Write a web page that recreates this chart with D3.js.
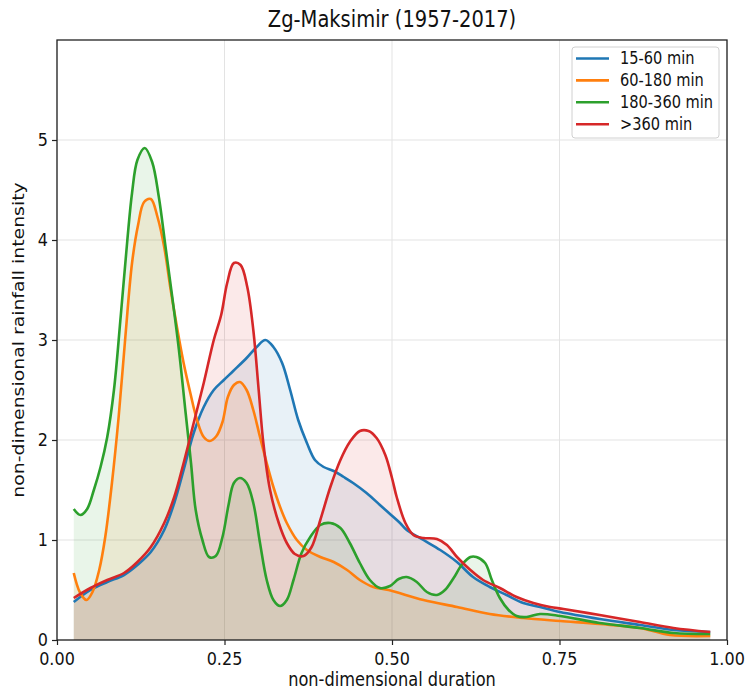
<!DOCTYPE html>
<html>
<head>
<meta charset="utf-8">
<script src="https://cdn.jsdelivr.net/npm/d3@7"></script>
<style>
  html, body { margin: 0; padding: 0; background: #fff; }
  svg { display: block; }
  text { font-family: "DejaVu Sans", sans-serif; fill: #111; }
</style>
</head>
<body>
<svg id="chart" width="748" height="691"></svg>
<script>
// Non-dimensional rainfall profiles, Zagreb-Maksimir 1957-2017
const seriesNames = ["15-60 min", "60-180 min", "180-360 min", ">360 min"];
const seriesColors = ["#1f77b4", "#ff7f0e", "#2ca02c", "#d62728"];

const blueX = [0.025, 0.050, 0.075, 0.100, 0.120, 0.140, 0.160, 0.175, 0.189, 0.204, 0.219, 0.234, 0.249, 0.263, 0.283, 0.298, 0.311, 0.323, 0.336, 0.348, 0.360, 0.373, 0.385, 0.398, 0.413, 0.428, 0.442, 0.462, 0.482, 0.497, 0.512, 0.522, 0.547, 0.572, 0.597, 0.621, 0.646, 0.671, 0.696, 0.721, 0.751, 0.810, 0.870, 0.920, 0.975];
const blueY = [0.38, 0.50, 0.58, 0.65, 0.75, 0.88, 1.10, 1.37, 1.70, 2.07, 2.33, 2.50, 2.60, 2.69, 2.82, 2.93, 3.00, 2.93, 2.77, 2.50, 2.20, 1.97, 1.80, 1.73, 1.69, 1.63, 1.57, 1.47, 1.35, 1.26, 1.17, 1.10, 1.00, 0.90, 0.78, 0.63, 0.53, 0.45, 0.37, 0.33, 0.28, 0.21, 0.15, 0.10, 0.08];

const orangeX = [0.025, 0.034, 0.044, 0.053, 0.063, 0.072, 0.082, 0.092, 0.102, 0.112, 0.121, 0.130, 0.140, 0.150, 0.160, 0.169, 0.179, 0.189, 0.199, 0.209, 0.219, 0.228, 0.238, 0.247, 0.255, 0.264, 0.273, 0.283, 0.293, 0.303, 0.313, 0.323, 0.333, 0.343, 0.358, 0.373, 0.393, 0.413, 0.433, 0.452, 0.472, 0.495, 0.547, 0.597, 0.646, 0.696, 0.751, 0.810, 0.870, 0.915, 0.975];
const orangeY = [0.67, 0.48, 0.40, 0.48, 0.70, 1.03, 1.57, 2.23, 3.03, 3.77, 4.15, 4.38, 4.41, 4.23, 3.93, 3.53, 3.13, 2.77, 2.47, 2.20, 2.03, 1.99, 2.04, 2.18, 2.43, 2.55, 2.58, 2.50, 2.30, 2.03, 1.77, 1.53, 1.33, 1.17, 1.00, 0.90, 0.83, 0.78, 0.70, 0.60, 0.53, 0.50, 0.40, 0.33, 0.26, 0.22, 0.19, 0.16, 0.12, 0.05, 0.04];

const greenX = [0.025, 0.035, 0.045, 0.055, 0.065, 0.075, 0.085, 0.095, 0.105, 0.112, 0.120, 0.131, 0.142, 0.152, 0.162, 0.172, 0.182, 0.192, 0.200, 0.207, 0.217, 0.227, 0.237, 0.247, 0.256, 0.264, 0.273, 0.283, 0.293, 0.303, 0.313, 0.323, 0.333, 0.343, 0.353, 0.365, 0.378, 0.393, 0.408, 0.423, 0.437, 0.452, 0.467, 0.482, 0.497, 0.510, 0.522, 0.537, 0.552, 0.567, 0.579, 0.592, 0.604, 0.617, 0.626, 0.639, 0.649, 0.661, 0.674, 0.686, 0.701, 0.721, 0.751, 0.810, 0.870, 0.920, 0.975];
const greenY = [1.31, 1.25, 1.31, 1.50, 1.73, 2.03, 2.50, 3.23, 4.00, 4.47, 4.80, 4.92, 4.78, 4.43, 3.93, 3.43, 2.90, 2.27, 1.77, 1.30, 1.00, 0.83, 0.84, 1.03, 1.35, 1.57, 1.62, 1.57, 1.37, 0.97, 0.60, 0.40, 0.34, 0.40, 0.60, 0.87, 1.03, 1.15, 1.17, 1.12, 0.97, 0.77, 0.60, 0.52, 0.54, 0.61, 0.63, 0.58, 0.48, 0.45, 0.50, 0.62, 0.75, 0.83, 0.83, 0.77, 0.60, 0.42, 0.30, 0.24, 0.23, 0.26, 0.24, 0.17, 0.12, 0.07, 0.06];

const redX = [0.025, 0.050, 0.075, 0.100, 0.120, 0.140, 0.160, 0.175, 0.189, 0.204, 0.219, 0.234, 0.245, 0.254, 0.264, 0.274, 0.284, 0.293, 0.301, 0.308, 0.318, 0.331, 0.343, 0.355, 0.368, 0.380, 0.393, 0.408, 0.423, 0.437, 0.452, 0.465, 0.477, 0.490, 0.500, 0.507, 0.520, 0.532, 0.547, 0.567, 0.582, 0.597, 0.617, 0.636, 0.661, 0.686, 0.711, 0.736, 0.756, 0.810, 0.870, 0.920, 0.975];
const redY = [0.42, 0.52, 0.60, 0.67, 0.78, 0.93, 1.17, 1.43, 1.77, 2.17, 2.57, 3.00, 3.25, 3.57, 3.77, 3.75, 3.53, 3.10, 2.50, 1.97, 1.50, 1.17, 0.97, 0.86, 0.84, 0.93, 1.20, 1.53, 1.80, 1.98, 2.09, 2.09, 2.02, 1.85, 1.62, 1.43, 1.17, 1.05, 1.02, 1.01, 0.95, 0.83, 0.70, 0.60, 0.52, 0.43, 0.37, 0.33, 0.31, 0.25, 0.18, 0.12, 0.08];

const xTicks = [0, 0.25, 0.5, 0.75, 1.0];
const yTicks = [0, 1, 2, 3, 4, 5];
const titleText = "Zg-Maksimir (1957-2017)";
const xLabelText = "non-dimensional duration";
const yLabelText = "non-dimensional rainfall intensity";

const seriesX = [blueX, orangeX, greenX, redX];
const seriesY = [blueY, orangeY, greenY, redY];
const series = seriesNames.map((name, i) => ({
  name,
  color: seriesColors[i],
  points: seriesX[i].map((xv, j) => ({ x: xv, y: seriesY[i][j] }))
}));

const svg = d3.select("#chart");
const plot = { left: 57, right: 727, top: 40, bottom: 640 };
const x = d3.scaleLinear().domain([0, 1]).range([plot.left, plot.right]);
const y = d3.scaleLinear().domain([0, 6]).range([plot.bottom, plot.top]);

// text is drawn slightly tall, like the figure's own lettering
const SY = 1.15;
function label(parent, px, py, str, size, anchor, rotate) {
  const g = parent.append("g")
    .attr("transform", rotate
      ? `translate(${px},${py}) rotate(-90) scale(${SY},1)`
      : `translate(${px},${py}) scale(1,${SY})`);
  return g.append("text")
    .attr("text-anchor", anchor || "middle")
    .attr("font-size", size)
    .text(str);
}

// grid
const grid = svg.append("g");
grid.selectAll("line.gx").data(xTicks).join("line")
  .attr("x1", d => x(d)).attr("x2", d => x(d))
  .attr("y1", plot.top).attr("y2", plot.bottom)
  .attr("stroke", "#e3e3e3").attr("stroke-width", 1);
grid.selectAll("line.gy").data(yTicks).join("line")
  .attr("x1", plot.left).attr("x2", plot.right)
  .attr("y1", d => y(d)).attr("y2", d => y(d))
  .attr("stroke", "#e3e3e3").attr("stroke-width", 1);

const curve = d3.curveCatmullRom.alpha(0.5);
const area = d3.area().x(d => x(d.x)).y0(y(0)).y1(d => y(d.y)).curve(curve);
const line = d3.line().x(d => x(d.x)).y(d => y(d.y)).curve(curve);

const clip = svg.append("clipPath").attr("id", "plotclip")
  .append("rect").attr("x", plot.left).attr("y", plot.top)
  .attr("width", plot.right - plot.left).attr("height", plot.bottom - plot.top);

const marks = svg.append("g").attr("clip-path", "url(#plotclip)");
marks.selectAll("path.area").data(series).join("path")
  .attr("class", "area")
  .attr("d", d => area(d.points))
  .attr("fill", d => d.color)
  .attr("fill-opacity", 0.1);
marks.selectAll("path.line").data(series).join("path")
  .attr("class", "line")
  .attr("d", d => line(d.points))
  .attr("fill", "none")
  .attr("stroke", d => d.color)
  .attr("stroke-width", 2.6)
  .attr("stroke-linejoin", "round");

// axes
const xAxis = svg.append("g").attr("transform", `translate(0,${plot.bottom})`)
  .call(d3.axisBottom(x).tickValues(xTicks).tickSize(5).tickFormat(() => ""));
const yAxis = svg.append("g").attr("transform", `translate(${plot.left},0)`)
  .call(d3.axisLeft(y).tickValues(yTicks).tickSize(5).tickFormat(() => ""));
[xAxis, yAxis].forEach(a => {
  a.select(".domain").remove();
  a.selectAll(".tick line").attr("stroke", "#222").attr("stroke-width", 1.2);
});
xTicks.forEach(t => label(svg, x(t), plot.bottom + 25, d3.format(".2f")(t), 16, "middle"));
yTicks.forEach(t => label(svg, plot.left - 9, y(t) + 6, String(t), 16, "end"));

// frame
svg.append("rect")
  .attr("x", plot.left).attr("y", plot.top)
  .attr("width", plot.right - plot.left).attr("height", plot.bottom - plot.top)
  .attr("fill", "none").attr("stroke", "#222").attr("stroke-width", 1.3);

// titles
label(svg, (plot.left + plot.right) / 2, 27, titleText, 19.5, "middle");
label(svg, (plot.left + plot.right) / 2, 686, xLabelText, 16.2, "middle");
label(svg, 24, (plot.top + plot.bottom) / 2, yLabelText, 16.4, "middle", true);

// legend
const lg = svg.append("g");
lg.append("rect")
  .attr("x", 572).attr("y", 47).attr("width", 147).attr("height", 91)
  .attr("rx", 3).attr("fill", "#fff").attr("fill-opacity", 0.85)
  .attr("stroke", "#d0d0d0").attr("stroke-width", 1);
series.forEach((s, i) => {
  const cy = 58.5 + i * 21.9;
  lg.append("line")
    .attr("x1", 576).attr("x2", 609).attr("y1", cy).attr("y2", cy)
    .attr("stroke", s.color).attr("stroke-width", 2.6);
  label(lg, 620, cy + 5.5, s.name, 14.6, "start");
});
</script>
</body>
</html>
